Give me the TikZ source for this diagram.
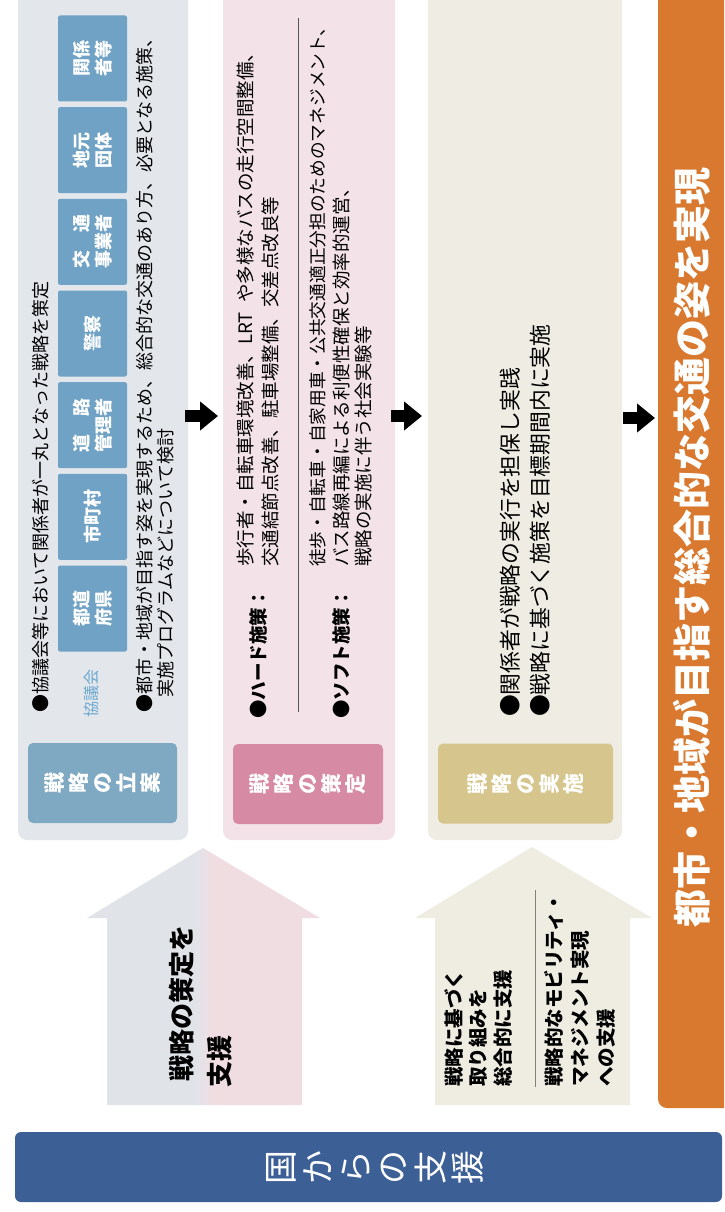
\documentclass[tikz,border=0pt]{standalone}
\usepackage{fontspec}
\setmainfont{Noto Sans CJK JP}
\usetikzlibrary{arrows.meta}
\definecolor{rowA}{HTML}{E3E7EC}
\definecolor{rowB}{HTML}{F3E3E8}
\definecolor{rowC}{HTML}{EFECE3}
\definecolor{labA}{HTML}{7FA8C2}
\definecolor{labB}{HTML}{D68AA3}
\definecolor{labC}{HTML}{D6C68E}
\definecolor{stake}{HTML}{6FA2C4}
\definecolor{kyogi}{HTML}{6AA8D0}
\definecolor{orangebar}{HTML}{D8792F}
\definecolor{bluebar}{HTML}{3C5F96}
\definecolor{houseG}{HTML}{E0E4E9}
\definecolor{houseP}{HTML}{F0DDE2}
\definecolor{houseC}{HTML}{EFECE2}
\definecolor{sepline}{HTML}{555555}
\begin{document}
\begin{tikzpicture}[x=1pt,y=-1pt,
  tline/.style={rotate=90,anchor=west,inner sep=0pt,text=black},
  fA/.style={font=\fontsize{18}{20}\selectfont},
  fB/.style={font=\fontsize{18.5}{20}\selectfont},
  fBb/.style={font=\fontsize{18.5}{20}\selectfont\bfseries},
  fC/.style={font=\fontsize{21.8}{24}\selectfont},
  stakebox/.style={rotate=90,fill=stake,text=white,rounded corners=2pt,
    minimum width=86pt,minimum height=69pt,inner sep=0pt,align=center,
    font=\fontsize{18}{22}\selectfont\bfseries},
  labbox/.style={rotate=90,text=white,rounded corners=5pt,minimum width=80pt,
    inner sep=0pt,align=center,font=\fontsize{21}{24}\selectfont\bfseries},
  blockarrow/.style={black,line width=12pt,-{Triangle[length=18pt,width=28pt]}},
  houseB/.style={tline,font=\fontsize{19.5}{22}\selectfont\bfseries},
  houseA/.style={tline,font=\fontsize{26}{28}\selectfont\bfseries}
]
\useasboundingbox (0,0) rectangle (724,1212);
\fill[white] (0,0) rectangle (724,1212);
\clip (0,0) rectangle (724,1212);

% row backgrounds
\fill[rowA,rounded corners=9pt] (18,-20) rectangle (188,840);
\fill[rowB,rounded corners=9pt] (223,-20) rectangle (395,840);
\fill[rowC,rounded corners=9pt] (428,-20) rectangle (622,840);

% orange bar
\fill[orangebar,rounded corners=9pt] (658,-20) rectangle (740,1108);
\node[rotate=90,text=white,inner sep=0pt,font=\fontsize{38}{40}\selectfont\bfseries] (goal) at (692,547) {都市・地域が目指す総合的な交通の姿を実現};

% blue bar
\fill[bluebar,rounded corners=6pt] (15,1132) rectangle (722,1202);
\node[rotate=90,text=white,inner sep=0pt,align=center,font=\fontsize{34}{37.5}\selectfont] (kuni) at (375,1167) {国\\か\\ら\\の\\支\\援};

% label boxes
\node[labbox,fill=labA,minimum height=149pt] (labA) at (102.5,783) {戦\\略\\の\\立\\案};
\node[labbox,fill=labB,minimum height=150pt] (labB) at (308,784) {戦\\略\\の\\策\\定};
\node[labbox,fill=labC,minimum height=175pt] (labC) at (525.5,783.5) {戦\\略\\の\\実\\施};

% row 1 contents
\node[tline,fA] (r1a) at (41,713) {●協議会等において関係者が一丸となった戦略を策定};
\node[tline,text=kyogi,font=\fontsize{16}{18}\selectfont] (kyo) at (91,718) {協議会};
\node[stakebox] (s1) at (92.5,608.5) {都道\\府県};
\node[stakebox] (s2) at (92.5,516.8) {市町村};
\node[stakebox] (s3) at (92.5,425.2) {道\hspace{1em}路\\管理者};
\node[stakebox] (s4) at (92.5,333.5) {警察};
\node[stakebox] (s5) at (92.5,241.8) {交\hspace{1em}通\\事業者};
\node[stakebox] (s6) at (92.5,150.2) {地元\\団体};
\node[stakebox] (s7) at (92.5,58.5) {関係\\者等};
\node[tline,fA] (r1b) at (145,713) {●都市・地域が目指す姿を実現するため、総合的な交通のあり方、必要となる施策、};
\node[tline,fA] (r1c) at (166,698) {実施プログラムなどについて検討};

% row 2 contents
\node[tline,fBb] (hard) at (258,719) {●ハード施策：};
\node[tline,fB] (hard1) at (246,567) {歩行者・自転車環境改善、LRT\hspace{0.5em}や多様なバスの走行空間整備、};
\node[tline,fB] (hard2) at (270,567) {交通結節点改善、駐車場整備、交差点改良等};
\draw[sepline,line width=0.9pt] (298,18) -- (298,712);
\node[tline,fBb] (soft) at (341,719) {●ソフト施策：};
\node[tline,font=\fontsize{17.7}{20}\selectfont] (soft1) at (318,567) {徒歩・自転車・自家用車・公共交通適正分担のためのマネジメント、};
\node[tline,fB] (soft2) at (341,567) {バス路線再編による利便性確保と効率的運営、};
\node[tline,fB] (soft3) at (363,567) {戦略の実施に伴う社会実験等};

% row 3 contents
\node[tline,fC] (r3a) at (510,717) {●関係者が戦略の実行を担保し実践};
\node[tline,fC] (r3b) at (540,717) {●戦略に基づく施策を目標期間内に実施};

% black arrows between rows
\coordinate (a1s) at (185,416); \coordinate (a1e) at (218,416);
\coordinate (a2s) at (391,416); \coordinate (a2e) at (422,416);
\coordinate (a3s) at (623,418); \coordinate (a3e) at (655,418);
\draw[blockarrow] (a1s) -- (a1e);
\draw[blockarrow] (a2s) -- (a2e);
\draw[blockarrow] (a3s) -- (a3e);

% house arrow 1
\begin{scope}
\clip (107,1105) -- (107,918) -- (87,918) -- (203,848) -- (320,918) -- (302,918) -- (302,1105) -- cycle;
\fill[houseG] (80,840) rectangle (196,1110);
\shade[left color=houseG,right color=houseP] (196,840) rectangle (212,1110);
\fill[houseP] (212,840) rectangle (330,1110);
\end{scope}
\node[houseA] (h1a) at (182,1082) {戦略の策定を};
\node[houseA] (h1b) at (220,1088) {支援};

% house arrow 2
\fill[houseC] (435,1105) -- (435,918) -- (415,918) -- (532,847) -- (652,918) -- (630,918) -- (630,1105) -- cycle;
\node[houseB] (h2a) at (454,1087) {戦略に基づく};
\node[houseB] (h2b) at (478,1087) {取り組みを};
\node[houseB] (h2c) at (503,1087) {総合的に支援};
\draw[gray,line width=0.6pt] (535,890) -- (535,1087);
\node[houseB] (h2d) at (554,1087) {戦略的なモビリティ・};
\node[houseB] (h2e) at (580,1087) {マネジメント実現};
\node[houseB] (h2f) at (606,1087) {への支援};
\end{tikzpicture}
\end{document}
